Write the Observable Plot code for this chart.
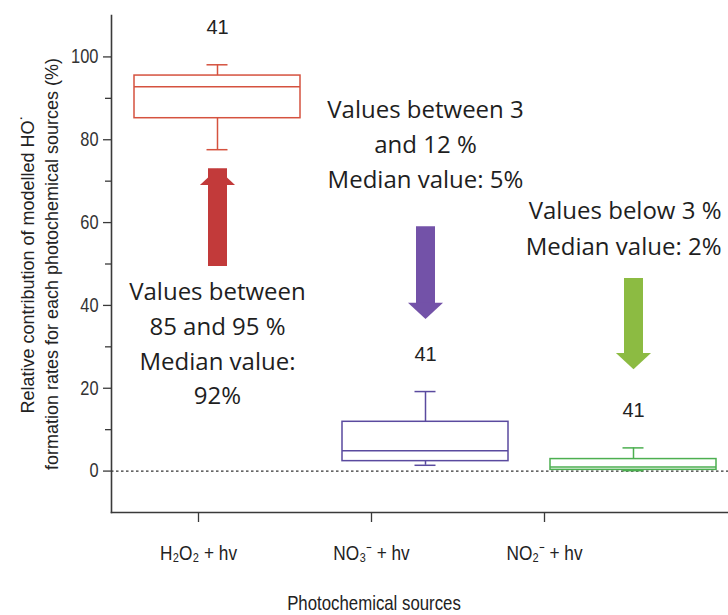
<!DOCTYPE html>
<html>
<head>
<meta charset="utf-8">
<script src="https://cdn.jsdelivr.net/npm/d3@7"></script>
<script src="https://cdn.jsdelivr.net/npm/@observablehq/plot@0.6"></script>
<style>
  html, body { margin: 0; padding: 0; background: #fff; }
  #chart { position: relative; width: 728px; height: 615px; }
  #chart svg { position: absolute; left: 0; top: 0; }
</style>
</head>
<body>
<div id="chart"></div>
<script>
// ---- data ----
const sources = ["H₂O₂ + hv", "NO₃⁻ + hv", "NO₂⁻ + hv"];
const whiskerLow = [77.6, 1.4, 0.1];
const q1 = [85.2, 2.4, 0.3];
const median = [92.8, 4.9, 1.0];
const q3 = [95.5, 11.9, 2.9];
const whiskerHigh = [98.1, 19.2, 5.6];
const counts = [41, 41, 41];
const arrowFrom = [53, 59, 46.5];
const arrowTo = [73, 36.7, 24.6];
const notes = [
  "Values between\n85 and 95 %\nMedian value:\n92%",
  "Values between 3\nand 12 %\nMedian value: 5%",
  "Values below 3 %\nMedian value: 2%"
];
const noteY = [31.4, 79.5, 59.2];
const majorTicks = [0, 20, 40, 60, 80, 100];
const minorTicks = [10, 30, 50, 70, 90];
const yTitle = "Relative contribution of modelled HO˙\nformation rates for each photochemical sources (%)";
const xTitle = "Photochemical sources";

// ---- styles ----
const boxColors = ["#d5523f", "#5a4a9f", "#4caf50"];
const arrowColors = ["#c23a3a", "#7352a8", "#8cbb42"];
const axisColor = "#3a3a3a";
const sans = "'Liberation Sans', Arial, sans-serif";
const noteFont = "'Open Sans', sans-serif";

const rows = sources.map((s, i) => ({
  src: s, low: whiskerLow[i], q1: q1[i], med: median[i], q3: q3[i], high: whiskerHigh[i],
  n: counts[i], from: arrowFrom[i], to: arrowTo[i], note: notes[i], noteY: noteY[i]
}));

const W = 728, H = 615;
const common = { width: W, height: H, marginTop: 15, marginBottom: 103 };
const yScale = { domain: [-10, 110] };

// ---- background plot: axes ----
const axesPlot = Plot.plot({
  ...common,
  marginLeft: 111, marginRight: 0,
  x: { type: "point", domain: sources, range: [197, 544], padding: 0 },
  y: yScale,
  style: { background: "white", color: axisColor, fontFamily: sans },
  marks: [
    Plot.ruleY([0], { stroke: "#333", strokeDasharray: "2.5,2.5", strokeWidth: 1.2 }),
    Plot.axisY({ ticks: majorTicks, tickSize: 8, tickPadding: 5, label: null, fontSize: 20, stroke: axisColor, strokeWidth: 1.3, fill: "#333" }),
    Plot.axisY({ ticks: minorTicks, tickSize: 6, tickFormat: () => "", label: null, stroke: axisColor, strokeWidth: 1.3 }),
    Plot.frame({ anchor: "left", stroke: axisColor, strokeWidth: 1.6 }),
    Plot.frame({ anchor: "bottom", stroke: axisColor, strokeWidth: 1.6 }),
    Plot.axisX({ tickSize: 10, tickPadding: 23, label: null, fontSize: 21, stroke: axisColor, strokeWidth: 1.3, fill: "#222" }),
    Plot.text([xTitle], { frameAnchor: "bottom", dx: -46, dy: 91, fontSize: 21, fill: "#222", lineAnchor: "middle" }),
    Plot.text([yTitle], { frameAnchor: "left", textAnchor: "middle", rotate: -90, dx: -73, fontSize: 18, lineHeight: 1.35, fill: "#222" })
  ]
});

// ---- foreground plot: boxes, arrows, notes ----
const upHead = { draw(ctx, size) { const r = Math.sqrt(size / Math.PI); const w = r * 1.35, h = r * 1.25; ctx.moveTo(0, 0); ctx.lineTo(w, h); ctx.lineTo(-w, h); ctx.closePath(); } };
const downHead = { draw(ctx, size) { const r = Math.sqrt(size / Math.PI); const w = r * 1.35, h = r * 1.25; ctx.moveTo(0, 0); ctx.lineTo(w, -h); ctx.lineTo(-w, -h); ctx.closePath(); } };

const arrowMarks = rows.flatMap((d, i) => {
  const up = d.to > d.from;
  return [
    Plot.ruleX([d], { x: "src", y1: "from", y2: "to", stroke: arrowColors[i], strokeWidth: 19, insetTop: up ? 15 : 0, insetBottom: up ? 0 : 15 }),
    Plot.dot([d], { x: "src", y: "to", r: 13, symbol: up ? upHead : downHead, fill: arrowColors[i], stroke: "none" })
  ];
});

const boxPlot = Plot.plot({
  ...common,
  marginLeft: 0, marginRight: 0,
  x: { type: "band", domain: sources, range: [133, 717.5], paddingInner: 0.2, paddingOuter: 0, axis: null },
  y: { ...yScale, axis: null },
  color: { domain: sources, range: boxColors },
  style: { background: "transparent", fontFamily: sans },
  marks: [
    Plot.ruleX(rows, { x: "src", y1: "low", y2: "q1", stroke: "src", strokeWidth: 1.5 }),
    Plot.ruleX(rows, { x: "src", y1: "q3", y2: "high", stroke: "src", strokeWidth: 1.5 }),
    Plot.tickY(rows, { x: "src", y: "low", stroke: "src", strokeWidth: 1.5, insetLeft: 72.5, insetRight: 72.5 }),
    Plot.tickY(rows, { x: "src", y: "high", stroke: "src", strokeWidth: 1.5, insetLeft: 72.5, insetRight: 72.5 }),
    Plot.barY(rows, { x: "src", y1: "q1", y2: "q3", fill: "none", stroke: "src", strokeWidth: 1.5 }),
    Plot.tickY(rows, { x: "src", y: "med", stroke: "src", strokeWidth: 1.5 }),
    Plot.text(rows, { x: "src", y: "high", text: "n", dy: -37, fontSize: 20, fill: "#222" }),
    ...arrowMarks,
    Plot.text(rows.slice(0, 2), { x: "src", y: "noteY", text: "note", fontSize: 24, lineHeight: 1.45, fill: "#1e1e1e", fontFamily: noteFont }),
    Plot.text(rows.slice(2), { y: "noteY", text: "note", frameAnchor: "right", dx: -7, fontSize: 24, lineHeight: 1.5, fill: "#1e1e1e", fontFamily: noteFont })
  ]
});

const chart = document.getElementById("chart");
chart.appendChild(axesPlot);
chart.appendChild(boxPlot);

// narrow (condensed) look of the axis lettering
function condenseEl(t, k) {
  const w = t.getComputedTextLength();
  if (w > 0) {
    t.setAttribute("textLength", (w * k).toFixed(1));
    t.setAttribute("lengthAdjust", "spacingAndGlyphs");
  }
}
axesPlot.querySelectorAll('g[aria-label="x-axis tick label"] text').forEach(t => condenseEl(t, 0.82));
axesPlot.querySelectorAll('g[aria-label="y-axis tick label"] text').forEach(t => condenseEl(t, 0.82));
axesPlot.querySelectorAll("text").forEach(t => { if (t.textContent === xTitle) condenseEl(t, 0.8); });
</script>
</body>
</html>
